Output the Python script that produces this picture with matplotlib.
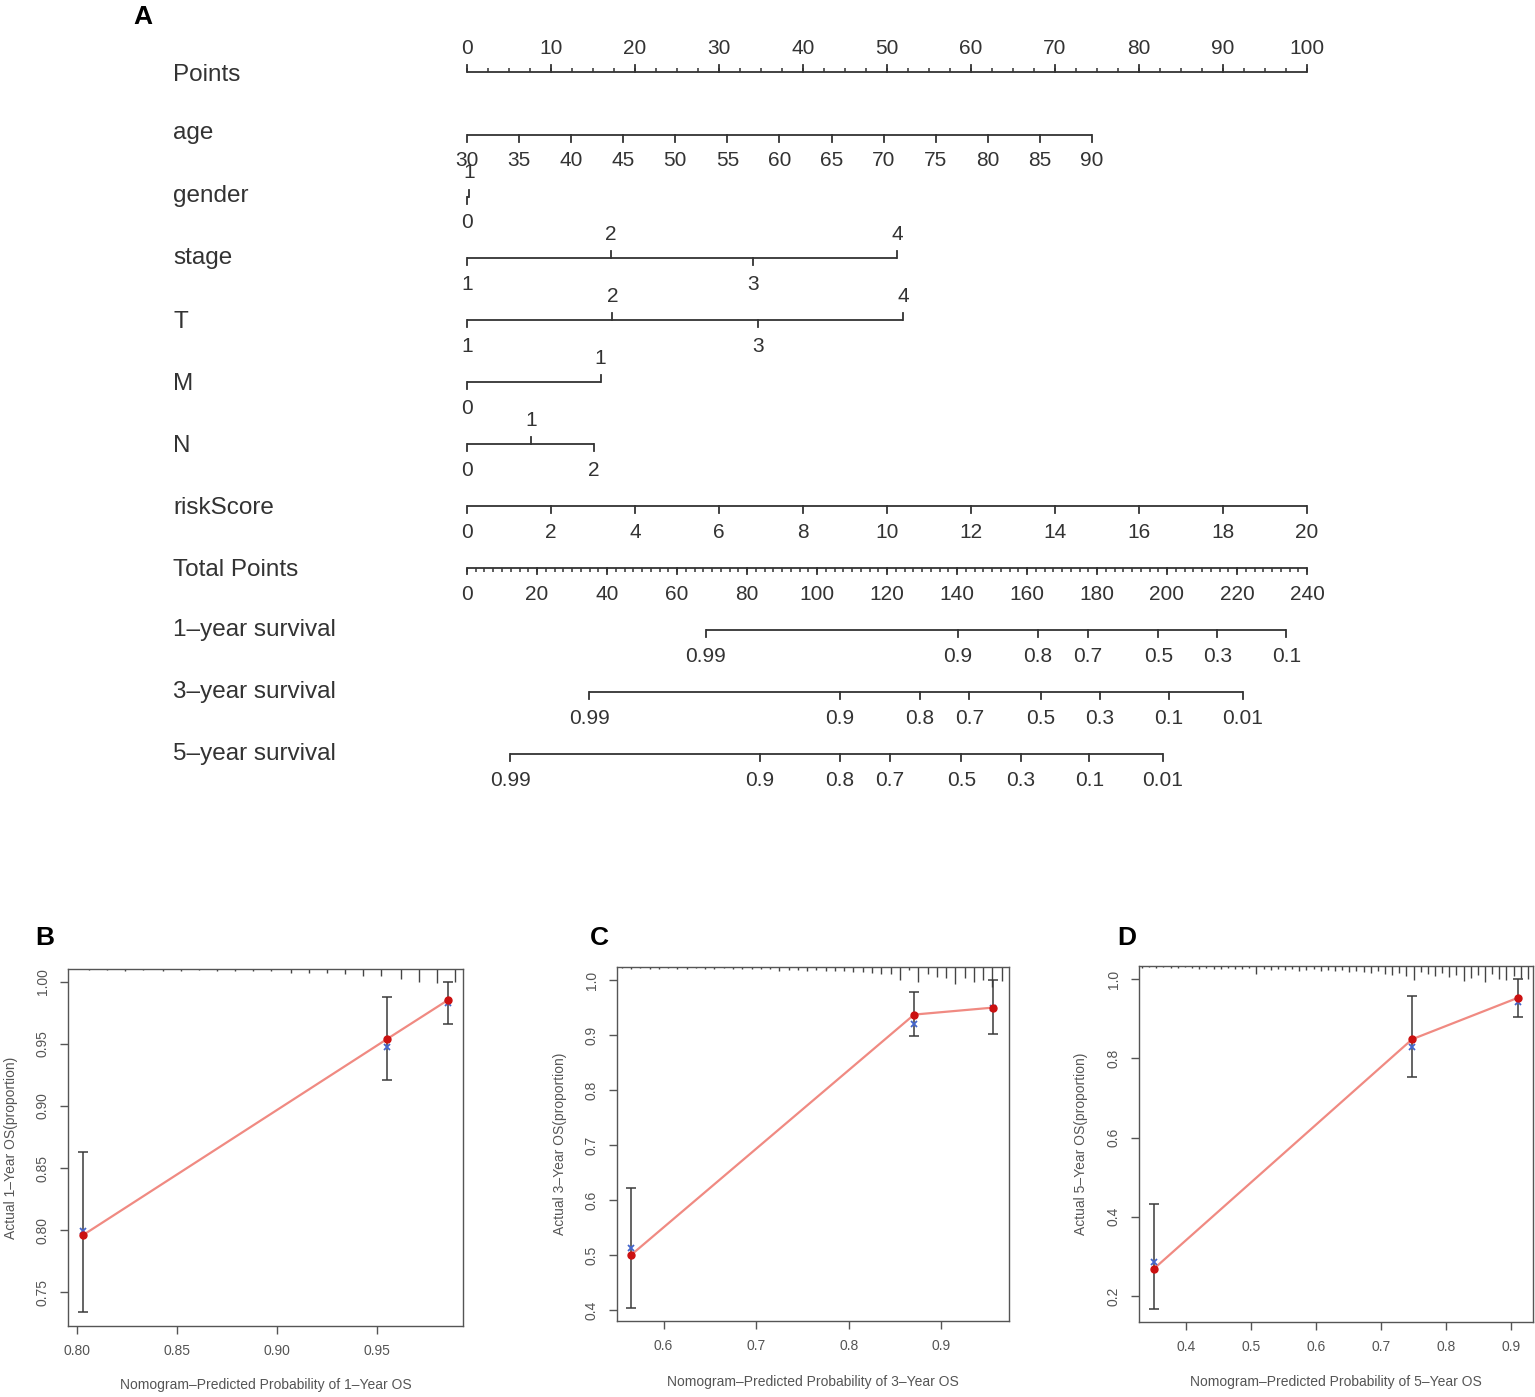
import numpy as np
import matplotlib
matplotlib.use('Agg')
import matplotlib.pyplot as plt
from matplotlib.ticker import FormatStrFormatter

plt.rcParams['font.family'] = ['Liberation Sans', 'DejaVu Sans']

W, H = 1535, 1397
INK = '#333333'

# ---------------- nomogram data ----------------
points_ticks = [0, 10, 20, 30, 40, 50, 60, 70, 80, 90, 100]

age_labels = [30, 35, 40, 45, 50, 55, 60, 65, 70, 75, 80, 85, 90]
age_points = [0, 6.2, 12.4, 18.6, 24.8, 31.0, 37.2, 43.4, 49.6, 55.8, 62.0, 68.2, 74.4]

gender_labels = [0, 1]
gender_points = [0, 0.25]

stage_labels = [1, 2, 3, 4]
stage_points = [0, 17.1, 34.1, 51.2]

t_labels = [1, 2, 3, 4]
t_points = [0, 17.3, 34.6, 51.9]

m_labels = [0, 1]
m_points = [0, 15.9]

n_labels = [0, 1, 2]
n_points = [0, 7.6, 15.1]

risk_labels = [0, 2, 4, 6, 8, 10, 12, 14, 16, 18, 20]
risk_points = [0, 10, 20, 30, 40, 50, 60, 70, 80, 90, 100]

total_ticks = [0, 20, 40, 60, 80, 100, 120, 140, 160, 180, 200, 220, 240]

surv1_labels = ['0.99', '0.9', '0.8', '0.7', '0.5', '0.3', '0.1']
surv1_total = [68.2, 140.3, 163.1, 177.3, 197.5, 214.4, 234.1]
surv3_labels = ['0.99', '0.9', '0.8', '0.7', '0.5', '0.3', '0.1', '0.01']
surv3_total = [34.9, 106.6, 129.4, 143.5, 163.9, 180.8, 200.6, 221.6]
surv5_labels = ['0.99', '0.9', '0.8', '0.7', '0.5', '0.3', '0.1', '0.01']
surv5_total = [12.3, 83.7, 106.6, 120.9, 141.2, 158.3, 177.8, 198.8]

# ---------------- calibration data ----------------
b_pred = [0.8028, 0.9548, 0.9857]
b_obs = [0.7957, 0.9538, 0.9857]
b_corr = [0.7993, 0.9476, 0.9828]
b_lo = [0.734, 0.9207, 0.9659]
b_hi = [0.863, 0.9877, 1.0]
b_rug_x = [0.806, 0.815, 0.824, 0.833, 0.843, 0.852, 0.861, 0.870, 0.879, 0.888, 0.897,
           0.907, 0.916, 0.925, 0.934, 0.943, 0.952, 0.962, 0.971, 0.980, 0.989]
b_rug_h = [1, 1, 1.7, 1, 1.7, 2, 1.3, 2, 1.7, 2, 2.3, 4, 4, 4, 5, 6.7, 7.3, 10, 12.7, 14, 13.3]

c_pred = [0.5649, 0.8705, 0.9556]
c_obs = [0.500, 0.9376, 0.9503]
c_corr = [0.512, 0.9212, 0.9490]
c_lo = [0.4042, 0.898, 0.903]
c_hi = [0.6213, 0.9788, 1.0]
c_rug_x = [0.555, 0.565, 0.575, 0.585, 0.595, 0.605, 0.615, 0.625, 0.635, 0.645, 0.655,
           0.665, 0.675, 0.685, 0.695, 0.705, 0.715, 0.725, 0.735, 0.745, 0.755, 0.765,
           0.775, 0.785, 0.795, 0.805, 0.815, 0.825, 0.835, 0.845, 0.855, 0.865, 0.875,
           0.885, 0.895, 0.905, 0.915, 0.925, 0.935, 0.945, 0.955, 0.965]
c_rug_h = [1, 1.5, 1, 1.5, 1.5, 1, 1.5, 1.5, 1, 1.5, 1.5, 1, 1.5, 1.5, 2, 1.5, 2,
           4, 3, 3, 4, 3, 4, 3.5, 4, 5, 5, 6, 6.5, 7,
           13, 3, 15, 7, 10, 11, 17, 11, 15, 13, 20, 14]

d_pred = [0.3504, 0.7478, 0.9113]
d_obs = [0.269, 0.848, 0.953]
d_corr = [0.2858, 0.8276, 0.942]
d_lo = [0.168, 0.7527, 0.904]
d_hi = [0.433, 0.956, 1.0]
d_rug_x = [0.332, 0.343, 0.354, 0.365, 0.376, 0.387, 0.398, 0.409, 0.420, 0.431, 0.442,
           0.453, 0.464, 0.475, 0.486, 0.497, 0.508, 0.519, 0.530, 0.541, 0.552, 0.563,
           0.574, 0.585, 0.596, 0.607, 0.618, 0.629, 0.640, 0.651, 0.662, 0.673, 0.684,
           0.695, 0.706, 0.717, 0.728, 0.739, 0.750, 0.761, 0.772, 0.783, 0.794, 0.805,
           0.816, 0.827, 0.838, 0.849, 0.860, 0.871, 0.882, 0.893, 0.904, 0.915, 0.926]
d_rug_h = [1.5, 1, 1.5, 1, 1.5, 1.5, 1, 2, 3, 2, 2.5, 3, 2, 3, 2.5, 2,
           8, 3, 4, 3, 4, 3, 5, 4, 3, 5, 4, 5, 4, 6, 5,
           6, 7, 5, 8, 9, 7, 10,
           14, 6, 8, 10, 7, 11, 9, 15, 12, 9, 16, 8, 13, 14, 10, 12, 13]

fig = plt.figure(figsize=(W / 100, H / 100), dpi=100)

# ---------------- nomogram (panel A) ----------------
TOP_H = 830
rect = [0, 1 - TOP_H / H, 1, TOP_H / H]
ax = fig.add_axes(rect)
ax.set_xlim(-467 / 8.4, (W - 467) / 8.4)
ax.set_ylim(TOP_H, 0)
ax.axis('off')
# same area, x in total points
axt = fig.add_axes(rect)
axt.set_xlim(-467 / 3.5, (W - 467) / 3.5)
axt.set_ylim(TOP_H, 0)
axt.axis('off')


def draw_scale(a, y, pos, labels, sides, tick=7, fs=15):
    a.plot([min(pos), max(pos)], [y, y], color=INK, lw=1.3, solid_capstyle='butt')
    for p, lab, s in zip(pos, labels, sides):
        if s == 'up':
            a.plot([p, p], [y, y - tick], color=INK, lw=1.3)
            a.text(p, y - 24, str(lab), ha='center', va='center', fontsize=fs, color=INK)
        else:
            a.plot([p, p], [y, y + tick], color=INK, lw=1.3)
            a.text(p, y + 26, str(lab), ha='center', va='center', fontsize=fs, color=INK)


def minor_ticks(a, y, pos, length):
    a.vlines(pos, y, y + length, color=INK, lw=1.1)


# row: (axis line y, label y)
rows = {'Points': (72, 75), 'age': (135, 133), 'gender': (197, 196), 'stage': (258, 258),
        'T': (320, 322), 'M': (382, 384), 'N': (444, 446), 'riskScore': (506, 508),
        'Total Points': (568, 570), '1–year survival': (630, 630),
        '3–year survival': (692, 692), '5–year survival': (754, 754)}
label_x = (173 - 467) / 8.4
for name, (_, ly) in rows.items():
    ax.text(label_x, ly, name, ha='left', va='center', fontsize=17.5, color=INK)

draw_scale(ax, rows['Points'][0], points_ticks, points_ticks, ['up'] * 11)
minor_ticks(ax, rows['Points'][0], np.arange(0, 100.1, 2.5), -4)
draw_scale(ax, rows['age'][0], age_points, age_labels, ['down'] * 13)
draw_scale(ax, rows['gender'][0], gender_points, gender_labels, ['down', 'up'])
draw_scale(ax, rows['stage'][0], stage_points, stage_labels, ['down', 'up', 'down', 'up'])
draw_scale(ax, rows['T'][0], t_points, t_labels, ['down', 'up', 'down', 'up'])
draw_scale(ax, rows['M'][0], m_points, m_labels, ['down', 'up'])
draw_scale(ax, rows['N'][0], n_points, n_labels, ['down', 'up', 'down'])
draw_scale(ax, rows['riskScore'][0], risk_points, risk_labels, ['down'] * 11)
draw_scale(axt, rows['Total Points'][0], total_ticks, total_ticks, ['down'] * 13, tick=6)
minor_ticks(axt, rows['Total Points'][0], np.arange(0, 240.1, 2.5), 3.5)
draw_scale(axt, rows['1–year survival'][0], surv1_total, surv1_labels, ['down'] * 7)
draw_scale(axt, rows['3–year survival'][0], surv3_total, surv3_labels, ['down'] * 8)
draw_scale(axt, rows['5–year survival'][0], surv5_total, surv5_labels, ['down'] * 8)


# ---------------- calibration plots ----------------
def draw_cal(box, pred, obs, corr, lo, hi, rug_x, rug_h, xlim, ylim, xticks, yticks,
             fmt, xlabel, ylabel, lab_pos):
    l, r, t, b = box
    a = fig.add_axes([l / W, 1 - b / H, (r - l) / W, (b - t) / H])
    a.set_xlim(*xlim)
    a.set_ylim(*ylim)
    a.set_xticks(xticks)
    a.set_yticks(yticks)
    a.xaxis.set_major_formatter(FormatStrFormatter(fmt))
    a.yaxis.set_major_formatter(FormatStrFormatter(fmt))
    for s in a.spines.values():
        s.set_color('#555555')
        s.set_linewidth(1.0)
    a.tick_params(direction='out', length=6, width=1, color='#555555',
                  labelcolor='#555555', labelsize=10, pad=7)
    for tl in a.get_yticklabels():
        tl.set_rotation(90)
        tl.set_va('center')
    a.set_xlabel(xlabel, fontsize=10, color='#555555')
    a.set_ylabel(ylabel, fontsize=10, color='#555555')
    a.xaxis.set_label_coords(0.5, lab_pos[1])
    a.yaxis.set_label_coords(lab_pos[0], 0.5)
    hpx = b - t
    a.vlines(rug_x, [1 - h / hpx for h in rug_h], 1, transform=a.get_xaxis_transform(),
             color='#444444', lw=1.0)
    a.plot(pred, obs, '-', color='#F08A82', lw=1.6, zorder=2)
    a.errorbar(pred, obs, yerr=[np.array(obs) - np.array(lo), np.array(hi) - np.array(obs)],
               fmt='none', ecolor='#3a3a3a', elinewidth=1.1, capsize=3.5, capthick=1.1, zorder=3)
    a.plot(pred, corr, 'x', color='#4466CC', ms=4.5, mew=1.3, zorder=4)
    a.plot(pred, obs, 'o', color='#CC1111', ms=5, zorder=5)
    return a


draw_cal((68, 463, 969, 1326), b_pred, b_obs, b_corr, b_lo, b_hi, b_rug_x, b_rug_h,
         (0.7955, 0.993), (0.7226, 1.0105), [0.80, 0.85, 0.90, 0.95],
         [0.75, 0.80, 0.85, 0.90, 0.95, 1.00], '%.2f',
         'Nomogram–Predicted Probability of 1–Year OS', 'Actual 1–Year OS(proportion)',
         (-0.127, -0.146))
draw_cal((617, 1009, 967, 1321), c_pred, c_obs, c_corr, c_lo, c_hi, c_rug_x, c_rug_h,
         (0.5498, 0.9729), (0.38, 1.0242), [0.6, 0.7, 0.8, 0.9],
         [0.4, 0.5, 0.6, 0.7, 0.8, 0.9, 1.0], '%.1f',
         'Nomogram–Predicted Probability of 3–Year OS', 'Actual 3–Year OS(proportion)',
         (-0.128, -0.153))
draw_cal((1139, 1533, 966, 1322), d_pred, d_obs, d_corr, d_lo, d_hi, d_rug_x, d_rug_h,
         (0.3273, 0.9338), (0.1344, 1.0328), [0.4, 0.5, 0.6, 0.7, 0.8, 0.9],
         [0.2, 0.4, 0.6, 0.8, 1.0], '%.1f',
         'Nomogram–Predicted Probability of 5–Year OS', 'Actual 5–Year OS(proportion)',
         (-0.130, -0.149))

# panel letters
for letter, (px, py) in {'A': (133, 5), 'B': (35, 926), 'C': (590, 926), 'D': (1117, 926)}.items():
    fig.text(px / W, 1 - py / H, letter, fontsize=19, fontweight='bold', color='black',
             ha='left', va='top')

fig.savefig('out.png', dpi=100)
